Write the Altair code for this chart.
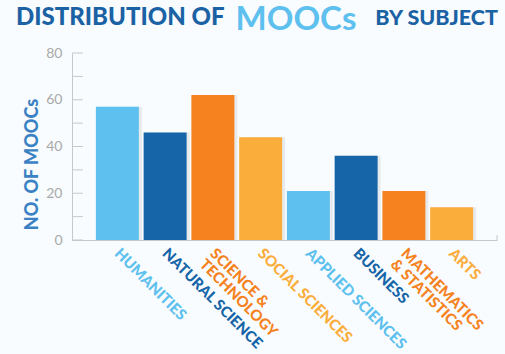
import altair as alt
import pandas as pd

keys = ["HUM", "NAT", "SCT", "SOC", "APP", "BUS", "MAT", "ART"]
labels = ["HUMANITIES", "NATURAL SCIENCE", "SCIENCE &\nTECHNOLOGY", "SOCIAL SCIENCES",
          "APPLIED SCIENCES", "BUSINESS", "MATHEMATICS\n& STATISTICS", "ARTS"]
values = [57, 46, 62, 44, 21, 36, 21, 14]
colors = ["#5ec0ee", "#1565a8", "#f5821f", "#fbad3c", "#5ec0ee", "#1565a8", "#f5821f", "#fbad3c"]
y_tick_labels = [0, 20, 40, 60, 80]
y_minor = [0, 10, 20, 30, 40, 50, 60, 70, 80]
title_parts = ["DISTRIBUTION OF", "MOOCs", "BY SUBJECT"]

df = pd.DataFrame({"key": keys, "label": labels, "value": values, "color": colors})
ticks_df = pd.DataFrame({"t": y_minor})

FONT = "Lato"
AXIS_GRAY = "#c6c8ca"

xscale = alt.Scale(domain=keys, paddingInner=0.1, paddingOuter=0.5)
yscale = alt.Scale(domain=[0, 80])

x_axis = alt.Axis(labels=False, ticks=False, title=None, domainColor=AXIS_GRAY, domainWidth=1)
y_axis = alt.Axis(values=y_tick_labels, ticks=False, grid=False, labelColor="#a9a9a9",
                  labelFont=FONT, labelFontSize=14, labelPadding=10,
                  domainColor=AXIS_GRAY, domainWidth=1,
                  title="NO. OF MOOCs", titleX=-40, titleY=111, titleAngle=-90,
                  titleFont=FONT, titleFontWeight=900, titleFontSize=18,
                  titleColor="#3b82c4", titleAlign="center", titleBaseline="middle")

shadow = alt.Chart(df).mark_bar(color="#000000", opacity=0.07, xOffset=3).encode(
    x=alt.X("key:N", sort=keys, scale=xscale, axis=x_axis),
    y=alt.Y("value:Q", scale=yscale, axis=y_axis),
)

bars = alt.Chart(df).mark_bar().encode(
    x=alt.X("key:N", sort=keys, scale=xscale, axis=x_axis),
    y=alt.Y("value:Q", scale=yscale, axis=y_axis),
    color=alt.Color("color:N", scale=None),
)

tick_rules = alt.Chart(ticks_df).mark_rule(color=AXIS_GRAY, strokeWidth=1).encode(
    y=alt.Y("t:Q", scale=yscale),
    x=alt.value(0),
    x2=alt.value(11),
)

end_tick = alt.Chart(ticks_df.head(1)).mark_rule(color=AXIS_GRAY, strokeWidth=1).encode(
    x=alt.value(425), y=alt.value(182), y2=alt.value(187),
)

xlabels = alt.Chart(df).mark_text(
    angle=45, align="left", baseline="middle", font=FONT, fontWeight=900,
    fontSize=15, lineBreak="\n", lineHeight=15,
).encode(
    x=alt.X("key:N", sort=keys, scale=xscale),
    y=alt.value(198),
    text="label:N",
    color=alt.Color("color:N", scale=None),
)

t1 = alt.Chart(pd.DataFrame({"t": [title_parts[0]]})).mark_text(
    align="left", baseline="alphabetic", font=FONT, fontWeight=900, fontSize=24, color="#1b62a5"
).encode(x=alt.value(-56), y=alt.value(-28), text="t:N")

t2 = alt.Chart(pd.DataFrame({"t": [title_parts[1]]})).mark_text(
    align="center", baseline="alphabetic", font=FONT, fontWeight=700, fontSize=33, color="#5ec0ee"
).encode(x=alt.value(224), y=alt.value(-23), text="t:N")

t3 = alt.Chart(pd.DataFrame({"t": [title_parts[2]]})).mark_text(
    align="right", baseline="alphabetic", font=FONT, fontWeight=900, fontSize=21.5, color="#1b62a5"
).encode(x=alt.value(426), y=alt.value(-28), text="t:N")

chart = alt.layer(shadow, bars, tick_rules, end_tick, xlabels, t1, t2, t3).properties(
    width=425, height=187,
    autosize=alt.AutoSizeParams(type="none"),
    padding={"left": 72, "top": 53, "right": 8, "bottom": 114},
    background="#f8fcfe",
).configure_view(stroke=None)

chart.save("out.html", embed_options={"renderer": "svg", "actions": False})
